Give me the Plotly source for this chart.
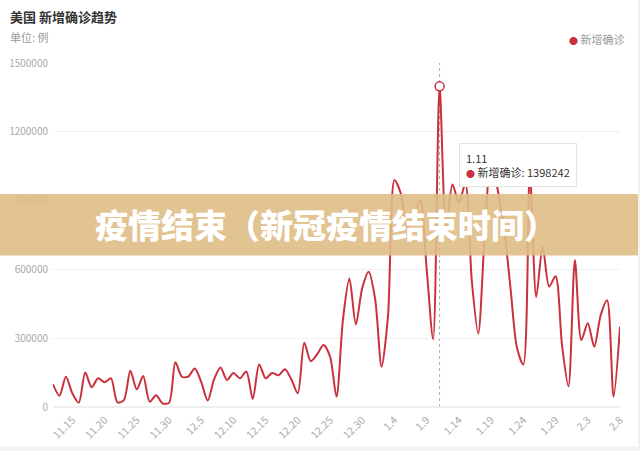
import plotly.graph_objects as go

dates = [
    "11.12", "11.13", "11.14", "11.15", "11.16", "11.17", "11.18", "11.19", "11.20", "11.21",
    "11.22", "11.23", "11.24", "11.25", "11.26", "11.27", "11.28", "11.29", "11.30",
    "12.1", "12.2", "12.3", "12.4", "12.5", "12.6", "12.7", "12.8", "12.9", "12.10",
    "12.11", "12.12", "12.13", "12.14", "12.15", "12.16", "12.17", "12.18", "12.19", "12.20",
    "12.21", "12.22", "12.23", "12.24", "12.25", "12.26", "12.27", "12.28", "12.29", "12.30", "12.31",
    "1.1", "1.2", "1.3", "1.4", "1.5", "1.6", "1.7", "1.8", "1.9", "1.10",
    "1.11", "1.12", "1.13", "1.14", "1.15", "1.16", "1.17", "1.18", "1.19", "1.20",
    "1.21", "1.22", "1.23", "1.24", "1.25", "1.26", "1.27", "1.28", "1.29", "1.30", "1.31",
    "2.1", "2.2", "2.3", "2.4", "2.5", "2.6", "2.7", "2.8",
]

new_cases = [
    99000, 49000, 132000, 60000, 19000, 150000, 86000, 125000, 108000, 125000,
    20000, 30000, 158000, 77000, 135000, 23000, 51000, 16000, 18000,
    195000, 132000, 133000, 168000, 110000, 28000, 120000, 172000, 118000, 148000,
    125000, 155000, 35000, 185000, 125000, 148000, 138000, 165000, 120000, 60000,
    280000, 200000, 230000, 270000, 220000, 45000, 380000, 560000, 360000, 520000, 590000,
    470000, 175000, 400000, 990000, 930000, 780000, 830000, 900000, 600000, 295000,
    1398242, 780000, 970000, 890000, 975000, 550000, 320000, 750000, 1100000, 950000,
    780000, 520000, 260000, 185000, 1030000, 480000, 700000, 525000, 570000, 270000, 90000,
    640000, 292000, 365000, 263000, 400000, 465000, 45000, 350000,
]

x_tick_labels = ["11.15", "11.20", "11.25", "11.30", "12.5", "12.10", "12.15", "12.20",
                 "12.25", "12.30", "1.4", "1.9", "1.14", "1.19", "1.24", "1.29", "2.3", "2.8"]
y_tick_values = [0, 300000, 600000, 900000, 1200000, 1500000]

series_name = "新增确诊"
chart_title = "美国 新增确诊趋势"
unit_text = "单位: 例"
banner_text = "疫情结束（新冠疫情结束时间）"
hover_date = "1.11"

RED = "#c9313d"
FONT = "Noto Sans CJK SC"

W, H = 640, 451
ML, MR, MT, MB = 53, 20, 63, 44
PW, PH = W - ML - MR, H - MT - MB


def px(xp):
    return (xp - ML) / PW


def py(yp):
    return (H - MB - yp) / PH


hi = dates.index(hover_date)

fig = go.Figure()
fig.add_trace(go.Scatter(
    x=dates, y=new_cases, mode="lines", name=series_name,
    line=dict(color=RED, width=2, shape="spline", smoothing=0.8),
    showlegend=False, hoverinfo="skip",
))
fig.add_trace(go.Scatter(
    x=[dates[hi]], y=[new_cases[hi]], mode="markers",
    marker=dict(size=9, color="white", line=dict(color=RED, width=1.5)),
    showlegend=False, hoverinfo="skip",
))

shapes = [
    dict(type="line", xref="x", yref="y", x0=hi, x1=hi, y0=0, y1=1500000,
         line=dict(color="#aaaaaa", width=1, dash="dot"), layer="below"),
    # banner
    dict(type="rect", xref="paper", yref="paper", x0=px(0), x1=px(W), y0=py(255.5), y1=py(194),
         fillcolor="rgb(223,189,134)", opacity=0.9, line=dict(width=0), layer="above"),
    # page background edges
    dict(type="rect", xref="paper", yref="paper", x0=px(0), x1=px(W), y0=py(H), y1=py(446.5),
         fillcolor="#f2f2f2", line=dict(width=0), layer="above"),
    dict(type="rect", xref="paper", yref="paper", x0=px(638), x1=px(W), y0=py(H), y1=py(0),
         fillcolor="#f2f2f2", line=dict(width=0), layer="above"),
]

annotations = [
    dict(xref="paper", yref="paper", x=px(8), y=py(17), xanchor="left", yanchor="middle",
         text=chart_title, showarrow=False,
         font=dict(family=FONT, size=13, color="#333333", weight="bold")),
    dict(xref="paper", yref="paper", x=px(8), y=py(37), xanchor="left", yanchor="middle",
         text=unit_text, showarrow=False, font=dict(family=FONT, size=11, color="#999999")),
    dict(xref="paper", yref="paper", x=px(626), y=py(39), xanchor="right", yanchor="middle",
         text=f"<span style='color:{RED};font-size:9px'>●</span> {series_name}", showarrow=False,
         font=dict(family=FONT, size=11, color="#999999")),
    dict(xref="paper", yref="paper", x=px(459), y=py(143), xanchor="left", yanchor="top",
         text=f"{hover_date}<br><span style='color:{RED};font-size:9px'>●</span> {series_name}: {new_cases[hi]}",
         showarrow=False, align="left", bgcolor="white", bordercolor="#e2e2e2", borderwidth=1,
         borderpad=6, font=dict(family=FONT, size=11, color="#333333")),
    dict(xref="paper", yref="paper", x=px(326), y=py(224), xanchor="center", yanchor="middle",
         text=banner_text, showarrow=False,
         font=dict(family=FONT, size=33, color="white", weight=900)),
]

fig.update_layout(
    width=W, height=H,
    margin=dict(l=ML, r=MR, t=MT, b=MB, autoexpand=False),
    paper_bgcolor="white", plot_bgcolor="white",
    font=dict(family=FONT, size=10, color="#999999"),
    shapes=shapes, annotations=annotations,
    xaxis=dict(type="category", range=[0, len(dates) - 1], tickvals=x_tick_labels,
               ticktext=x_tick_labels, tickangle=-45, showgrid=False, showline=False,
               zeroline=False, ticks="", ticklabelstandoff=4,
               tickfont=dict(size=10.5, color="#aaaaaa")),
    yaxis=dict(range=[0, 1500000], tickvals=y_tick_values,
               ticktext=[str(v) for v in y_tick_values], showgrid=True, gridcolor="#f0f0f0",
               zeroline=True, zerolinecolor="#eeeeee", showline=False, ticks="",
               ticklabelstandoff=4, tickfont=dict(size=10, color="#aaaaaa")),
)

fig.write_html("out.html", config={"displayModeBar": False},
               post_script="document.body.style.margin='0';document.body.style.overflow='hidden';")
